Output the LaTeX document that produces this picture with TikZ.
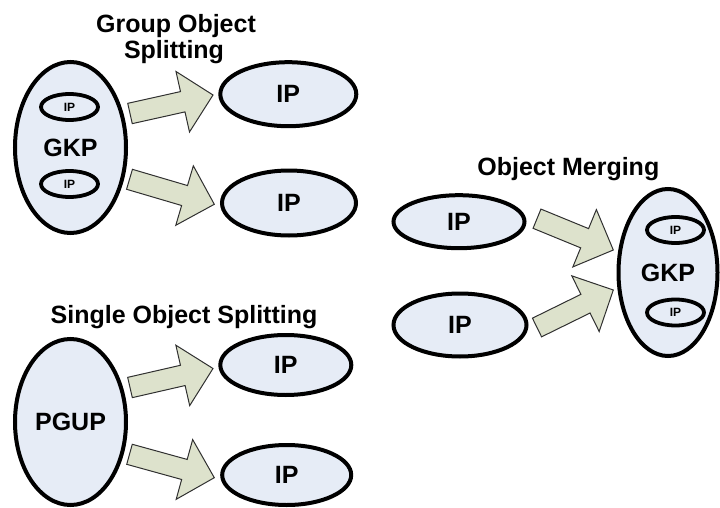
\documentclass[tikz,border=0pt]{standalone}
\usepackage{fontspec}
\setmainfont{Liberation Sans}
\usetikzlibrary{shapes.geometric,calc}
\definecolor{ellfill}{HTML}{E6ECF6}
\definecolor{arrfill}{HTML}{DDE2CC}
\definecolor{arrline}{HTML}{303030}
\tikzset{
  bigell/.style={ellipse, draw=black, line width=4pt, fill=ellfill, inner sep=0pt,
    font=\fontsize{25}{30}\selectfont\bfseries},
  smallell/.style={ellipse, draw=black, line width=3.8pt, fill=ellfill, inner sep=0pt,
    minimum width=57pt, minimum height=26pt, font=\fontsize{12}{14}\selectfont\bfseries},
  titletext/.style={anchor=base, inner sep=0pt, font=\fontsize{25}{30}\selectfont\bfseries},
  barrow/.style={draw=arrline, line width=1pt, fill=arrfill, line join=miter}
}
\newcommand\blockarrow[3]{%
  \coordinate (#1t) at #2;
  \coordinate (#1p) at #3;
  \coordinate (#1b) at ($(#1p)!31pt!(#1t)$);
  \draw[barrow] ($(#1t)!10.4pt!90:(#1p)$) -- ($(#1b)!10.4pt!90:(#1p)$) -- ($(#1b)!31pt!90:(#1p)$) -- (#1p)
     -- ($(#1b)!31pt!-90:(#1p)$) -- ($(#1b)!10.4pt!-90:(#1p)$) -- ($(#1t)!10.4pt!-90:(#1p)$) -- cycle;
}
\begin{document}
\begin{tikzpicture}[x=1pt,y=-1pt]
\useasboundingbox (0,0) rectangle (720,508);

% ---------- Group Object Splitting ----------
\node[titletext] (t1a) at (176,33) {Group Object};
\node[titletext] (t1b) at (174,58.3) {Splitting};
\node[bigell, minimum width=111pt, minimum height=171pt] (gkp1) at (70.5,147.5) {GKP};
\node[smallell] (gkp1a) at (69.5,107) {IP};
\node[smallell] (gkp1b) at (69.5,184) {IP};
\node[bigell, minimum width=136pt, minimum height=64pt] (ip1) at (288.3,94.2) {IP};
\node[bigell, minimum width=134pt, minimum height=65pt] (ip2) at (289,203) {IP};
\blockarrow{a1}{(130,113.5)}{(213,95)}
\blockarrow{a2}{(129.5,179.3)}{(214.3,204.3)}

% ---------- Single Object Splitting ----------
\node[titletext] (t2) at (184,323) {Single Object Splitting};
\node[bigell, minimum width=111pt, minimum height=166pt] (pgup) at (70.5,422) {PGUP};
\node[bigell, minimum width=131pt, minimum height=60pt] (ip3) at (285.8,365) {IP};
\node[bigell, minimum width=129pt, minimum height=60pt] (ip4) at (286.7,475) {IP};
\blockarrow{a3}{(130,387.5)}{(213,368.5)}
\blockarrow{a4}{(129.5,454.3)}{(214.3,477.7)}

% ---------- Object Merging ----------
\node[titletext] (t3) at (568.3,175.5) {Object Merging};
\node[bigell, minimum width=131pt, minimum height=53pt] (ip5) at (459,221.7) {IP};
\node[bigell, minimum width=133pt, minimum height=63pt] (ip6) at (460,325) {IP};
\node[bigell, minimum width=99pt, minimum height=167pt] (gkp2) at (668,272.5) {GKP};
\node[smallell] (gkp2a) at (675.5,230) {IP};
\node[smallell] (gkp2b) at (675.5,312.5) {IP};
\blockarrow{a5}{(537,218.7)}{(613.3,250)}
\blockarrow{a6}{(537,327.5)}{(613.3,290)}
\end{tikzpicture}
\end{document}
